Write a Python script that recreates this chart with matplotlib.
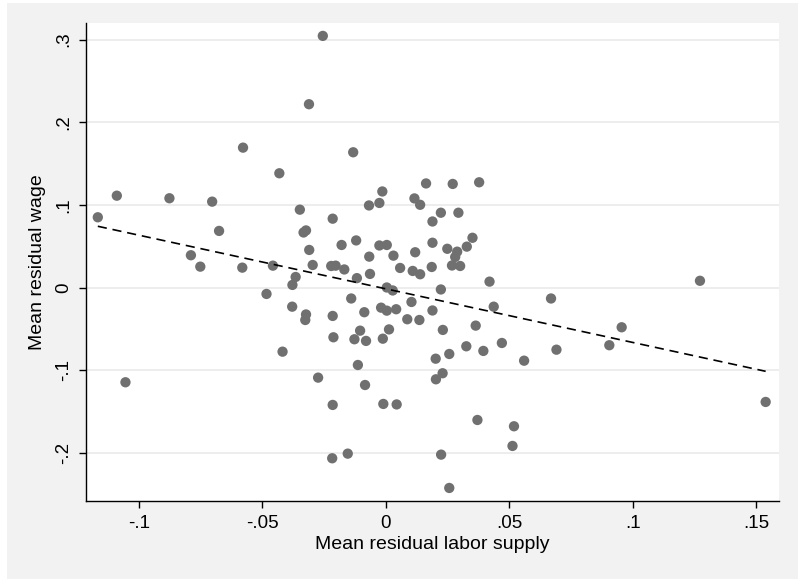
import numpy as np
import matplotlib
matplotlib.use("Agg")
import matplotlib.pyplot as plt
from matplotlib.patches import Rectangle

plt.rcParams['font.family'] = ['Liberation Sans', 'DejaVu Sans']

# mean residual labor supply (x) and mean residual wage (y)
labor = [-0.1166, -0.1089, -0.1054, -0.0876, -0.0789, -0.0751, -0.0703, -0.0675,
         -0.0581, -0.0578, -0.0483, -0.0457, -0.0431, -0.0418, -0.0378, -0.0365,
         -0.0379, -0.0348, -0.0333, -0.0323, -0.0323, -0.0326, -0.0310, -0.0311,
         -0.0296, -0.0274, -0.0255, -0.0221, -0.0203, -0.0215, -0.0215, -0.0212,
         -0.0215, -0.0217, -0.0179, -0.0168, -0.0154, -0.0140, -0.0132, -0.0127,
         -0.0120, -0.0117, -0.0113, -0.0104, -0.0087, -0.0084, -0.0080, -0.0068,
         -0.0067, -0.0064, -0.0026, -0.0014, -0.0026, 0.0004, -0.0019, 0.0004,
         -0.0012, -0.0010, 0.0004, 0.0028, 0.0013, 0.0031, 0.0042, 0.0044,
         0.0058, 0.0087, 0.0104, 0.0109, 0.0116, 0.0119, 0.0136, 0.0139,
         0.0139, 0.0163, 0.0186, 0.0189, 0.0189, 0.0189, 0.0202, 0.0203,
         0.0223, 0.0223, 0.0224, 0.0231, 0.0230, 0.0249, 0.0257, 0.0257,
         0.0271, 0.0268, 0.0281, 0.0289, 0.0294, 0.0301, 0.0328, 0.0326,
         0.0351, 0.0364, 0.0371, 0.0378, 0.0395, 0.0420, 0.0437, 0.0470,
         0.0513, 0.0519, 0.0560, 0.0669, 0.0691, 0.0905, 0.0955, 0.1272,
         0.1538]
wage = [0.0851, 0.1112, -0.1144, 0.1081, 0.0392, 0.0254, 0.1040, 0.0686,
        0.0242, 0.1693, -0.0076, 0.0266, 0.1383, -0.0774, 0.0033, 0.0129,
        -0.0230, 0.0943, 0.0667, 0.0692, -0.0324, -0.0391, 0.0456, 0.2218,
        0.0274, -0.1088, 0.3044, 0.0262, 0.0266, 0.0834, -0.0342, -0.0600,
        -0.1418, -0.2063, 0.0516, 0.0220, -0.2007, -0.0131, 0.1637, -0.0624,
        0.0571, 0.0115, -0.0935, -0.0520, -0.0297, -0.1177, -0.0644, 0.0994,
        0.0375, 0.0166, 0.1024, 0.1163, 0.0510, 0.0516, -0.0242, -0.0278,
        -0.0617, -0.1406, 0.0002, -0.0034, -0.0505, 0.0387, -0.0261, -0.1412,
        0.0238, -0.0382, -0.0173, 0.0202, 0.1079, 0.0428, -0.0391, 0.1002,
        0.0162, 0.1260, 0.0250, 0.0800, 0.0543, -0.0276, -0.0859, -0.1108,
        0.0906, -0.0022, -0.2019, -0.0511, -0.1035, 0.0470, -0.0802, -0.2422,
        0.1254, 0.0268, 0.0371, 0.0435, 0.0906, 0.0262, 0.0496, -0.0709,
        0.0603, -0.0459, -0.1600, 0.1274, -0.0765, 0.0073, -0.0230, -0.0669,
        -0.1914, -0.1676, -0.0883, -0.0131, -0.0750, -0.0696, -0.0479, 0.0083,
        -0.1382]

xticks = [-0.1, -0.05, 0, 0.05, 0.1, 0.15]
xlabels = ['-.1', '-.05', '0', '.05', '.1', '.15']
yticks = [-0.2, -0.1, 0, 0.1, 0.2, 0.3]
ylabels = ['-.2', '-.1', '0', '.1', '.2', '.3']

x = np.array(labor)
y = np.array(wage)
slope, icpt = np.polyfit(x, y, 1)
xs = np.array([x.min(), x.max()])

fig = plt.figure(figsize=(7.98, 5.79), dpi=100, facecolor='white')
fig.patches.append(Rectangle((7 / 798, 0), 1, 1 - 3 / 579, transform=fig.transFigure,
                             facecolor='#f2f2f2', edgecolor='none', zorder=-10))
ax = fig.add_axes([85.7 / 798, 1 - 500.7 / 579, (779 - 85.7) / 798, (500.7 - 23) / 579])
ax.set_facecolor('white')

ax.scatter(x, y, s=55, color='#707070', edgecolors='none', zorder=3)
ax.plot(xs, icpt + slope * xs, color='black', lw=1.2, ls=(0, (5.5, 3.5)), zorder=4)

ax.set_xlim(-0.1215, 0.1592)
ax.set_ylim(-0.2576, 0.320)
ax.set_xticks(xticks)
ax.set_xticklabels(xlabels)
ax.set_yticks(yticks)
ax.set_yticklabels(ylabels, rotation=90, va='center')
ax.yaxis.grid(True, color='#eaeaea', lw=1.2)
ax.set_axisbelow(True)
for side in ['top', 'right']:
    ax.spines[side].set_visible(False)
for side in ['left', 'bottom']:
    ax.spines[side].set_linewidth(1.0)
ax.tick_params(axis='both', direction='out', length=5, width=1.0, labelsize=13.5, pad=5)

ax.set_xlabel('Mean residual labor supply', fontsize=14, labelpad=3)
ax.set_ylabel('Mean residual wage', fontsize=14, labelpad=6)

fig.savefig('out.png', dpi=100, facecolor=fig.get_facecolor())
